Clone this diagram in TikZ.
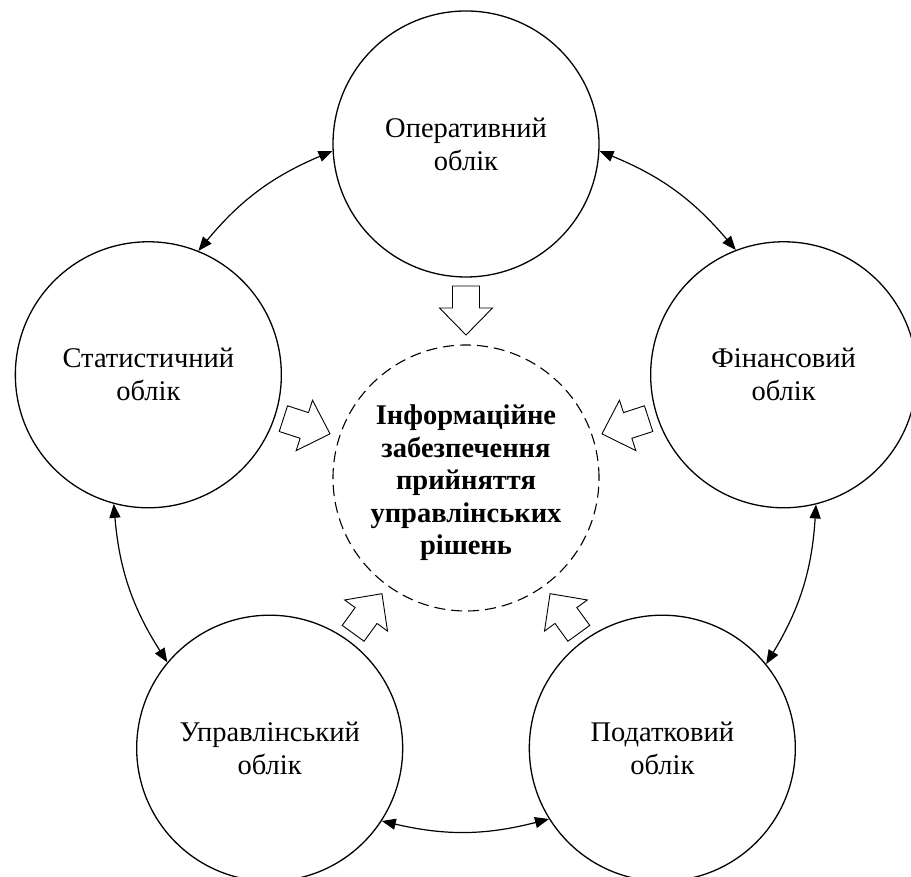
\documentclass[tikz,border=0pt]{standalone}
\usepackage{fontspec}
\setmainfont{Liberation Serif}
\usetikzlibrary{arrows.meta,calc}
\begin{document}
\begin{tikzpicture}[x=1pt,y=1pt,
  acc/.style={circle,draw,line width=1.3pt,minimum size=266pt,inner sep=0pt,align=center,font=\fontsize{28.5}{33}\selectfont},
  hub/.style={circle,draw,dash pattern=on 11pt off 6pt,line width=1.1pt,minimum size=266pt,inner sep=0pt},
  hubtext/.style={align=center,inner sep=0pt,font=\fontsize{28.5}{32.5}\selectfont\bfseries},
  link/.style={{Triangle[length=14pt,width=11pt]}-{Triangle[length=14pt,width=11pt]},line width=1.2pt},
  blockarrow/.style={draw,line width=0.9pt,fill=white,line join=miter}
]
\useasboundingbox (0,0) rectangle (911,877);
\coordinate (c) at (466,399);
\node[hub] (hub) at (c) {};
\node[hubtext] (hubt) at ([yshift=-5pt]hub.center) {Інформаційне\\забезпечення\\прийняття\\управлінських\\рішень};
\node[acc] (op) at ($(c)+(90:334)$) {Оперативний\\облік};
\node[acc] (st) at ($(c)+(162:334)$) {Статистичний\\облік};
\node[acc] (up) at ($(c)+(234:334)$) {Управлінський\\облік};
\node[acc] (pd) at ($(c)+(306:334)$) {Податковий\\облік};
\node[acc] (fn) at ($(c)+(18:334)$) {Фінансовий\\облік};
\draw[link] (op.183.9) to[bend right=13.8] (st.68.1);
\draw[link] (st.255.9) to[bend right=13.8] (up.140.1);
\draw[link] (up.327.9) to[bend right=13.8] (pd.212.1);
\draw[link] (pd.39.9) to[bend right=13.8] (fn.284.1);
\draw[link] (fn.111.9) to[bend right=13.8] (op.-3.9);
\foreach \a in {90,162,234,306,18} {
  \begin{scope}[shift={($(c)+(\a:192)$)}, rotate=\a+180]
    \draw[blockarrow] (0,-13.5) -- (22,-13.5) -- (22,-26.5) -- (49,0) -- (22,26.5) -- (22,13.5) -- (0,13.5) -- cycle;
  \end{scope}
}
\end{tikzpicture}
\end{document}
